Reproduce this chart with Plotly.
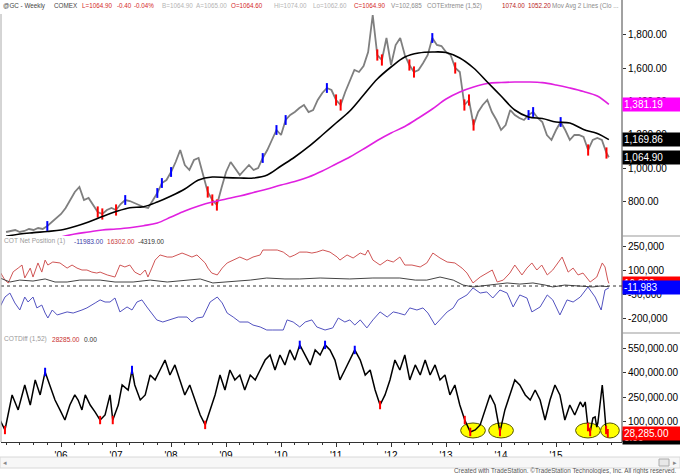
import numpy as np
import plotly.graph_objects as go

FONT = "Liberation Sans, Arial, sans-serif"

# ---------------- data ----------------
year_ticks = [2006, 2007, 2008, 2009, 2010, 2011, 2012, 2013, 2014, 2015]
year_labels = ["'06", "'07", "'08", "'09", "'10", "'11", "'12", "'13", "'14", "'15"]

# weekly gold futures, sampled monthly Jan 2005 .. Dec 2015
price_close = [
    616, 622, 628, 616, 622, 634, 628, 640, 634, 652, 676, 700,
    724, 760, 808, 856, 886, 808, 820, 778, 736, 724, 748, 760,
    748, 784, 808, 802, 790, 778, 766, 760, 808, 850, 910, 928,
    976, 1036, 1108, 1018, 988, 1048, 1060, 958, 856, 808, 778, 880,
    976, 1036, 1000, 958, 988, 1018, 988, 1000, 1060, 1108, 1168, 1228,
    1198, 1288, 1318, 1336, 1360, 1378, 1336, 1348, 1408, 1450, 1480, 1468,
    1408, 1378, 1456, 1528, 1588, 1576, 1612, 1696, 1918, 1678, 1648, 1780,
    1618, 1738, 1780, 1678, 1618, 1576, 1588, 1630, 1678, 1780, 1738, 1732,
    1696, 1678, 1600, 1576, 1378, 1408, 1258, 1336, 1378, 1408, 1336, 1288,
    1228, 1258, 1348, 1318, 1300, 1288, 1318, 1336, 1300, 1276, 1198, 1168,
    1228, 1276, 1228, 1168, 1198, 1198, 1186, 1108, 1168, 1180, 1168, 1090,
]
price_last_t = 2015.96
price_last = 1064.90
price_red_idx = [20, 21, 24, 44, 45, 46, 72, 73, 81, 82, 88, 89, 98, 100, 101, 102, 127, 131]
price_blue_idx = [9, 26, 33, 34, 36, 56, 59, 61, 70, 93, 114, 115, 121]

ma_fast_t = [2005.0, 2005.25, 2005.5, 2005.75, 2006.0, 2006.25, 2006.5, 2006.75, 2007.0, 2007.25,
             2007.5, 2007.75, 2008.0, 2008.25, 2008.5, 2008.75, 2009.0, 2009.25, 2009.5, 2009.75,
             2010.0, 2010.25, 2010.5, 2010.75, 2011.0, 2011.25, 2011.5, 2011.75, 2012.0, 2012.25,
             2012.5, 2012.75, 2013.0, 2013.25, 2013.5, 2013.75, 2014.0, 2014.25, 2014.5, 2014.75,
             2015.0, 2015.25, 2015.5, 2015.75, 2015.96]
ma_fast = [590, 604, 612, 619, 628, 649, 676, 709, 739, 762,
           768, 796, 832, 874, 928, 946, 942, 940, 940, 958,
           1012, 1066, 1128, 1198, 1270, 1342, 1438, 1534, 1606, 1666,
           1690, 1696, 1693, 1660, 1600, 1516, 1432, 1348, 1306, 1297,
           1276, 1270, 1231, 1207, 1169.86]

ma_slow_t = [2006.0, 2006.25, 2006.5, 2006.75, 2007.0, 2007.25, 2007.5, 2007.75, 2008.0, 2008.25,
             2008.5, 2008.75, 2009.0, 2009.25, 2009.5, 2009.75, 2010.0, 2010.25, 2010.5, 2010.75,
             2011.0, 2011.25, 2011.5, 2011.75, 2012.0, 2012.25, 2012.5, 2012.75, 2013.0, 2013.25,
             2013.5, 2013.75, 2014.0, 2014.25, 2014.5, 2014.75, 2015.0, 2015.25, 2015.5, 2015.75, 2015.96]
ma_slow = [586, 604, 616, 628, 634, 642, 654, 670, 706, 742,
           772, 796, 814, 832, 853, 874, 898, 919, 946, 982,
           1024, 1066, 1114, 1165, 1210, 1249, 1300, 1354, 1414, 1456,
           1486, 1507, 1513, 1516, 1516, 1512, 1498, 1480, 1459, 1432, 1381.19]

# COT net positions (thousand contracts)
spec_t = [2004.89, 2004.98, 2005.04, 2005.13, 2005.22, 2005.29, 2005.34, 2005.44, 2005.49, 2005.58,
          2005.65, 2005.71, 2005.76, 2005.85, 2005.98, 2006.11, 2006.20, 2006.29, 2006.38, 2006.47,
          2006.56, 2006.65, 2006.71, 2006.84, 2006.98, 2007.07, 2007.16, 2007.25, 2007.34, 2007.44,
          2007.53, 2007.58, 2007.65, 2007.71, 2007.80, 2007.93, 2008.02, 2008.11, 2008.20, 2008.29,
          2008.38, 2008.47, 2008.53, 2008.62, 2008.67, 2008.74, 2008.84, 2008.93, 2009.02, 2009.13,
          2009.25, 2009.38, 2009.49, 2009.62, 2009.67, 2009.80, 2009.93, 2010.04, 2010.16, 2010.25,
          2010.34, 2010.47, 2010.56, 2010.65, 2010.76, 2010.89, 2011.02, 2011.07, 2011.20, 2011.31,
          2011.44, 2011.53, 2011.58, 2011.67, 2011.80, 2011.93, 2012.04, 2012.16, 2012.25, 2012.38,
          2012.53, 2012.65, 2012.76, 2012.89, 2013.02, 2013.16, 2013.29, 2013.38, 2013.49, 2013.62,
          2013.74, 2013.84, 2013.93, 2014.04, 2014.16, 2014.25, 2014.38, 2014.47, 2014.56, 2014.65,
          2014.74, 2014.84, 2014.94, 2015.11, 2015.22, 2015.31, 2015.40, 2015.49, 2015.62, 2015.74,
          2015.84, 2015.89, 2015.94, 2015.96]
spec_net = [89, 37, 19, 89, 112, 131, 50, 112, 56, 144,
            87, 162, 131, 150, 144, 112, 131, 112, 100, 100,
            87, 81, 87, 69, 56, 131, 119, 131, 87, 69,
            100, 56, 112, 162, 194, 181, 181, 194, 206, 194,
            181, 194, 175, 144, 112, 81, 69, 112, 144, 162,
            181, 162, 181, 194, 225, 225, 225, 212, 181, 194,
            212, 212, 206, 212, 225, 212, 181, 162, 194, 175,
            206, 194, 225, 162, 131, 162, 150, 181, 131, 131,
            119, 144, 206, 175, 150, 144, 112, 81, 19, 56,
            81, 100, 25, 37, 81, 131, 69, 112, 144, 100,
            131, 69, 100, 181, 87, 112, 69, 81, 25, 56,
            144, 119, 37, 16.302]

comm_t = [2004.89, 2004.98, 2005.07, 2005.16, 2005.25, 2005.34, 2005.40, 2005.49, 2005.56, 2005.65,
          2005.71, 2005.76, 2005.84, 2005.93, 2006.11, 2006.22, 2006.38, 2006.47, 2006.62, 2006.71,
          2006.80, 2006.89, 2006.98, 2007.07, 2007.20, 2007.29, 2007.38, 2007.47, 2007.56, 2007.65,
          2007.74, 2007.85, 2007.98, 2008.13, 2008.29, 2008.38, 2008.47, 2008.58, 2008.71, 2008.84,
          2008.93, 2009.02, 2009.13, 2009.25, 2009.40, 2009.49, 2009.62, 2009.74, 2009.85, 2010.04,
          2010.11, 2010.22, 2010.34, 2010.44, 2010.56, 2010.65, 2010.80, 2010.94, 2011.04, 2011.16,
          2011.25, 2011.34, 2011.44, 2011.56, 2011.67, 2011.80, 2011.93, 2012.04, 2012.13, 2012.25,
          2012.34, 2012.47, 2012.58, 2012.67, 2012.80, 2012.89, 2013.02, 2013.13, 2013.22, 2013.38,
          2013.49, 2013.62, 2013.74, 2013.85, 2013.98, 2014.11, 2014.22, 2014.34, 2014.47, 2014.56,
          2014.71, 2014.84, 2014.94, 2015.07, 2015.20, 2015.31, 2015.44, 2015.58, 2015.71, 2015.82,
          2015.89, 2015.96]
comm_net = [-131, -69, -44, -106, -150, -69, -100, -69, -137, -119,
            -169, -200, -150, -181, -162, -169, -150, -137, -106, -87,
            -100, -100, -75, -162, -131, -150, -100, -87, -131, -169,
            -212, -225, -212, -194, -194, -225, -200, -194, -100, -69,
            -106, -169, -194, -225, -225, -244, -256, -275, -275, -275,
            -212, -225, -256, -225, -212, -256, -275, -262, -200, -225,
            -212, -244, -212, -262, -212, -162, -194, -162, -169, -181,
            -137, -150, -137, -169, -244, -212, -162, -137, -87, -56,
            -12, -44, -37, -75, -25, -44, -131, -56, -75, -162,
            -131, -56, -87, -181, -87, -100, -69, -6, -69, -150,
            -25, -11.983]

small_t = [2004.89, 2005.07, 2005.25, 2005.49, 2005.71, 2005.89, 2006.11, 2006.34, 2006.71, 2006.98,
           2007.31, 2007.62, 2007.93, 2008.25, 2008.53, 2008.76, 2008.98, 2009.44, 2009.74, 2010.07,
           2010.34, 2010.71, 2011.25, 2011.67, 2012.16, 2012.44, 2012.65, 2012.89, 2013.13, 2013.31,
           2013.49, 2013.80, 2014.11, 2014.34, 2014.58, 2014.80, 2014.94, 2015.16, 2015.49, 2015.67,
           2015.80, 2015.96]
small_net = [50, 25, 37, 31, 44, 25, 25, 37, 37, 25,
             25, 37, 25, 37, 44, 19, 25, 37, 50, 44,
             44, 50, 44, 50, 50, 37, 37, 56, 37, 6,
             -6, 6, 19, 12, 19, 6, -6, 6, 0, -6,
             0, -4.319]

# COTDiff (1,52), thousands
diff_t = [2004.89, 2004.98, 2005.11, 2005.22, 2005.34, 2005.44, 2005.53, 2005.62, 2005.71, 2005.80,
          2005.89, 2005.98, 2006.07, 2006.16, 2006.25, 2006.31, 2006.38, 2006.44, 2006.53, 2006.62,
          2006.71, 2006.80, 2006.89, 2006.94, 2007.04, 2007.11, 2007.22, 2007.29, 2007.34, 2007.44,
          2007.53, 2007.62, 2007.71, 2007.80, 2007.89, 2007.98, 2008.07, 2008.16, 2008.25, 2008.34,
          2008.44, 2008.53, 2008.62, 2008.71, 2008.80, 2008.89, 2008.98, 2009.07, 2009.16, 2009.25,
          2009.34, 2009.44, 2009.53, 2009.62, 2009.71, 2009.80, 2009.89, 2009.98, 2010.07, 2010.16,
          2010.25, 2010.34, 2010.44, 2010.53, 2010.62, 2010.71, 2010.80, 2010.89, 2010.98, 2011.07,
          2011.16, 2011.25, 2011.34, 2011.44, 2011.53, 2011.62, 2011.71, 2011.80, 2011.89, 2011.98,
          2012.07, 2012.16, 2012.25, 2012.34, 2012.44, 2012.53, 2012.62, 2012.71, 2012.80, 2012.89,
          2012.98, 2013.07, 2013.16, 2013.25, 2013.34, 2013.44, 2013.53, 2013.62, 2013.71, 2013.80,
          2013.89, 2013.98, 2014.07, 2014.16, 2014.25, 2014.34, 2014.44, 2014.53, 2014.62, 2014.71,
          2014.80, 2014.89, 2014.98, 2015.07, 2015.16, 2015.25, 2015.34, 2015.44, 2015.49, 2015.53,
          2015.56, 2015.58, 2015.62, 2015.67, 2015.71, 2015.74, 2015.76, 2015.82, 2015.84, 2015.87,
          2015.91, 2015.94]
diff_val = [109, 48, 263, 171, 324, 201, 355, 263, 404, 324,
            232, 171, 109, 201, 263, 232, 171, 263, 201, 158,
            109, 140, 263, 109, 201, 324, 293, 416, 324, 232,
            263, 385, 355, 416, 477, 385, 447, 355, 263, 324,
            232, 140, 79, 171, 263, 385, 293, 416, 355, 385,
            293, 385, 355, 416, 477, 508, 416, 508, 447, 539,
            477, 570, 508, 447, 539, 508, 570, 539, 477, 355,
            416, 477, 539, 477, 385, 416, 293, 201, 263, 355,
            477, 416, 508, 355, 447, 385, 477, 385, 447, 355,
            385, 263, 324, 201, 109, 36, 48, 79, 171, 263,
            201, 36, 171, 263, 355, 324, 263, 232, 293, 232,
            109, 232, 324, 263, 109, 201, 140, 220, 189, 220,
            128, 66, 36, 121, 128, 66, 91, 275, 324, 214,
            48, 28.285]
diff_red_t = [2004.98, 2006.71, 2006.94, 2008.62, 2011.80, 2013.34, 2013.44, 2013.98, 2015.58, 2015.62, 2015.91, 2015.94]
diff_blue_t = [2005.71, 2007.29, 2010.34, 2010.80, 2011.34]

# highlighted COTDiff lows (centre year, value in thousands)
circle_t = [2013.49, 2014.00, 2015.58, 2015.98]
circle_v = [45, 45, 45, 45]

# ---------------- figure ----------------
K = 1000
price_t = 2005 + np.arange(len(price_close)) / 12.0
px_t = list(price_t) + [price_last_t]
px_v = list(price_close) + [price_last]

fig = go.Figure()
fig.add_trace(go.Scatter(x=px_t, y=px_v, mode="lines", line=dict(color="#7f7f7f", width=1.8),
                         yaxis="y", hoverinfo="skip"))
fig.add_trace(go.Scatter(x=[price_t[i] for i in price_red_idx], y=[price_close[i] for i in price_red_idx],
                         mode="markers", yaxis="y",
                         marker=dict(symbol="line-ns", size=8, line=dict(color="#ff0000", width=2))))
fig.add_trace(go.Scatter(x=[price_t[i] for i in price_blue_idx], y=[price_close[i] for i in price_blue_idx],
                         mode="markers", yaxis="y",
                         marker=dict(symbol="line-ns", size=7, line=dict(color="#0000ff", width=2))))
fig.add_trace(go.Scatter(x=ma_slow_t, y=ma_slow, mode="lines", line=dict(color="#e020e0", width=1.6, shape="spline"),
                         yaxis="y"))
fig.add_trace(go.Scatter(x=ma_fast_t, y=ma_fast, mode="lines", line=dict(color="#000000", width=1.6, shape="spline"),
                         yaxis="y"))

fig.add_trace(go.Scatter(x=spec_t, y=[v * K for v in spec_net], mode="lines",
                         line=dict(color="#d05555", width=1), yaxis="y2"))
fig.add_trace(go.Scatter(x=small_t, y=[v * K for v in small_net], mode="lines",
                         line=dict(color="#444444", width=1), yaxis="y2"))
fig.add_trace(go.Scatter(x=comm_t, y=[v * K for v in comm_net], mode="lines",
                         line=dict(color="#5252c0", width=1), yaxis="y2"))

diff_map = dict(zip(diff_t, diff_val))
fig.add_trace(go.Scatter(x=diff_t, y=[v * K for v in diff_val], mode="lines",
                         line=dict(color="#000000", width=1.5), yaxis="y3"))
fig.add_trace(go.Scatter(x=diff_red_t, y=[diff_map[t] * K for t in diff_red_t], mode="markers", yaxis="y3",
                         marker=dict(symbol="line-ns", size=6, line=dict(color="#ff0000", width=2))))
fig.add_trace(go.Scatter(x=diff_blue_t, y=[diff_map[t] * K for t in diff_blue_t], mode="markers", yaxis="y3",
                         marker=dict(symbol="line-ns", size=6, line=dict(color="#0000ff", width=2))))

# pixel geometry helpers (plot area: x 1..622, y 12..442)
def py(ypix):
    return (442 - ypix) / 430.0

def pxp(xpix):
    return (xpix - 1) / 621.0

shapes = []
half_w = [0.225, 0.225, 0.225, 0.17]
for t, v, hw in zip(circle_t, circle_v, half_w):
    shapes.append(dict(type="circle", xref="x", yref="y3", x0=t - hw, x1=t + hw,
                       y0=(v - 46) * K, y1=(v + 46) * K, fillcolor="#ffff00",
                       line=dict(color="#555500", width=1), layer="below"))
shapes.append(dict(type="line", xref="paper", yref="y2", x0=0, x1=1, y0=0, y1=0,
                   line=dict(color="#333333", width=1, dash="dot")))
shapes.append(dict(type="line", xref="paper", yref="paper", x0=1, x1=1, y0=0, y1=py(0),
                   line=dict(color="#444444", width=1)))
shapes.append(dict(type="line", xref="paper", yref="paper", x0=0, x1=0, y0=0, y1=py(14),
                   line=dict(color="#aaaaaa", width=1)))
for yy in (236, 333):
    shapes.append(dict(type="line", xref="paper", yref="paper", x0=1, x1=pxp(680), y0=py(yy), y1=py(yy),
                       line=dict(color="#999999", width=1)))
shapes.append(dict(type="rect", xref="paper", yref="paper", x0=pxp(0), x1=pxp(680), y0=py(468), y1=py(457),
                   fillcolor="#f7f7f7", line=dict(color="#d8d8d8", width=1)))
shapes.append(dict(type="rect", xref="paper", yref="paper", x0=pxp(659), x1=pxp(669), y0=py(466), y1=py(459),
                   fillcolor="#e8e8e8", line=dict(color="#aaaaaa", width=1)))

annotations = []

def txt(x, y, s, color, size=6.6, anchor="left", family=FONT):
    annotations.append(dict(x=pxp(x), y=py(y), xref="paper", yref="paper", text=s, showarrow=False,
                            xanchor=anchor, yanchor="middle", borderpad=0,
                            font=dict(family=family, size=size, color=color)))

RED = "#d42828"
LG = "#b4b4b4"
MG = "#8c8c8c"
HS = 6.3
txt(2, 6, "@GC - Weekly", "#444444", HS)
txt(53, 6, "COMEX", "#444444", HS)
txt(81, 6, "L=1064.90", RED, HS)
txt(116, 6, "-0.40", RED, HS)
txt(133, 6, "-0.04%", RED, HS)
txt(161, 6, "B=1064.90", LG, HS)
txt(195, 6, "A=1065.00", LG, HS)
txt(230, 6, "O=1064.60", RED, HS)
txt(273, 6, "Hi=1074.00", LG, HS)
txt(312, 6, "Lo=1062.60", LG, HS)
txt(353, 6, "C=1064.90", RED, HS)
txt(390, 6, "V=102,685", MG, HS)
txt(426, 6, "COTExtreme (1,52)", MG, HS)
txt(501, 6, "1074.00", "#b81c1c", HS)
txt(527, 6, "1052.20", "#b81c1c", HS)
txt(551, 6, "Mov Avg 2 Lines (Clo ...", MG, HS)

txt(3, 241, "COT Net Position (1)", "#9a9a9a")
txt(73, 241, "-11983.00", "#3c3ca8")
txt(106, 241, "16302.00", "#c84040")
txt(137, 241, "-4319.00", "#333333")
txt(3, 339, "COTDiff (1,52)", "#9a9a9a")
txt(51, 339, "28285.00", "#c83030")
txt(83, 339, "0.00", "#333333")

txt(678, 471, "Created with TradeStation. ©TradeStation Technologies, Inc. All rights reserved.", "#555555",
    6.3, "right", "Liberation Sans Narrow, Liberation Sans, sans-serif")
txt(2, 462.5, "◂", "#888888", 7)
txt(678, 462.5, "▸", "#888888", 7, "right")

def box(value, yref, s, bg, fg="white"):
    annotations.append(dict(x=1.0, y=value, xref="paper", yref=yref, text=s, showarrow=False,
                            xanchor="left", yanchor="middle", align="left", width=55, height=11,
                            borderpad=1, bgcolor=bg, font=dict(family=FONT, size=10, color=fg)))

box(1381.19, "y", "1,381.19", "#ff00ff")
box(1169.86, "y", "1,169.86", "#000000")
box(1064.90, "y", "1,064.90", "#000000")
box(16302, "y2", "16,302", "#ff0000")
box(-11983, "y2", "-11,983", "#0000ff")
box(0, "y3", "0.00", "#000000")
box(28285, "y3", "28,285.00", "#ff0000")

axis_common = dict(side="right", anchor="x", showgrid=False, zeroline=False, ticks="outside", ticklen=3,
                   tickcolor="#333333", showline=False, automargin=False,
                   tickfont=dict(family=FONT, size=10, color="#000000"))

fig.update_layout(
    width=680, height=474, margin=dict(l=1, r=58, t=12, b=32, autoexpand=False),
    paper_bgcolor="white", plot_bgcolor="white", showlegend=False, hovermode=False,
    xaxis=dict(domain=[0, 1], range=[2004.908, 2016.199], anchor="y3", tickmode="array", automargin=False,
               tickvals=year_ticks, ticktext=year_labels, ticks="outside", ticklen=4, tickcolor="#333333",
               showline=True, linecolor="#333333", linewidth=1, showgrid=False, zeroline=False,
               tickfont=dict(family=FONT, size=10, color="#000000"),
               minor=dict(tickmode="linear", tick0=2005, dtick=0.25, ticks="outside", ticklen=2,
                          tickcolor="#333333")),
    yaxis=dict(domain=[py(236), 1], range=[592, 1936], tickvals=[800, 1000, 1200, 1400, 1600, 1800],
               ticktext=["800.00", "1,000.00", "1,200.00", "1,400.00", "1,600.00", "1,800.00"], **axis_common),
    yaxis2=dict(domain=[py(333), py(236)], range=[-293750, 312500],
                tickvals=[-200000, -50000, 100000, 250000],
                ticktext=["-200,000", "-50,000", "100,000", "250,000"], **axis_common),
    yaxis3=dict(domain=[0, py(333)], range=[-25767, 642938],
                tickvals=[100000, 250000, 400000, 550000],
                ticktext=["100,000.00", "250,000.00", "400,000.00", "550,000.00"], **axis_common),
    shapes=shapes, annotations=annotations,
)

fig.write_html("out.html", config={"displayModeBar": False, "staticPlot": True},
               post_script="document.body.style.margin='0px';document.body.style.padding='0px';")
